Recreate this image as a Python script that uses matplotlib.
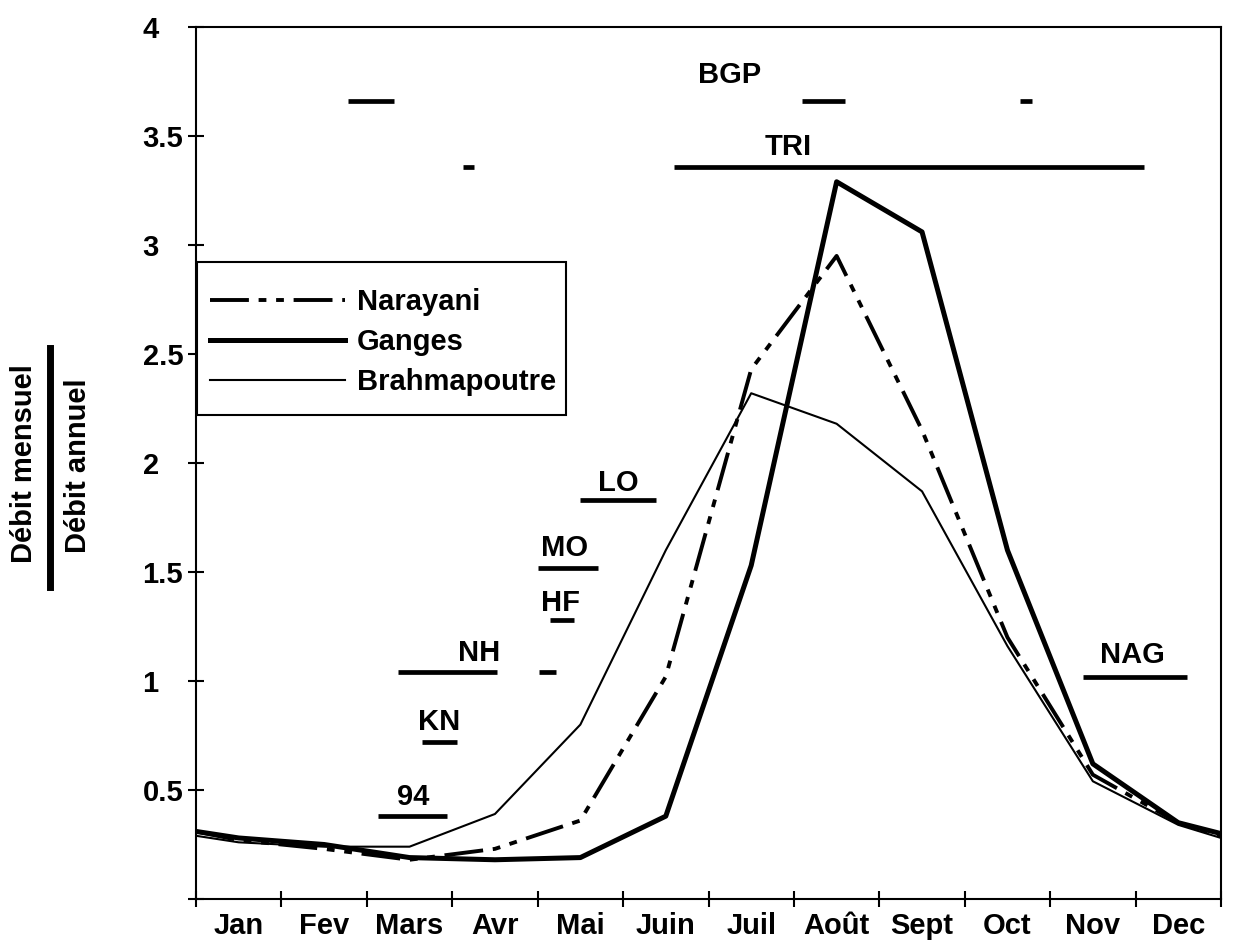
import matplotlib
matplotlib.use("Agg")
import matplotlib.pyplot as plt
from matplotlib.lines import Line2D
from matplotlib.patches import Rectangle

plt.rcParams['font.family'] = ['Liberation Sans', 'DejaVu Sans']
plt.rcParams['font.weight'] = 'bold'

# ---- data ----
months = ['Jan', 'Fev', 'Mars', 'Avr', 'Mai', 'Juin', 'Juil', 'Août', 'Sept', 'Oct', 'Nov', 'Dec']
x_pos = [0, 0.5, 1.5, 2.5, 3.5, 4.5, 5.5, 6.5, 7.5, 8.5, 9.5, 10.5, 11.5, 12]
narayani = [0.31, 0.27, 0.23, 0.18, 0.23, 0.36, 1.02, 2.43, 2.95, 2.15, 1.20, 0.57, 0.35, 0.29]
ganges = [0.31, 0.28, 0.25, 0.19, 0.18, 0.19, 0.38, 1.53, 3.29, 3.06, 1.60, 0.62, 0.35, 0.30]
brahmapoutre = [0.29, 0.26, 0.24, 0.24, 0.39, 0.80, 1.60, 2.32, 2.18, 1.87, 1.16, 0.54, 0.34, 0.28]

# horizontal period bars: start, end, level
bar_start = [1.78, 7.09, 9.65, 5.60, 3.12, 4.49, 4.00, 4.14, 2.36, 4.01, 2.65, 2.13, 10.38]
bar_end   = [2.32, 7.60, 9.79, 11.10, 3.25, 5.39, 4.71, 4.42, 3.52, 4.21, 3.06, 2.94, 11.60]
bar_level = [3.66, 3.66, 3.66, 3.36, 3.36, 1.83, 1.52, 1.28, 1.04, 1.04, 0.72, 0.38, 1.02]

# labels of the periods
lab_text = ['BGP', 'TRI', 'LO', 'MO', 'HF', 'NH', 'KN', '94', 'NAG']
lab_x    = [6.25, 6.93, 4.95, 4.31, 4.27, 3.32, 2.85, 2.54, 10.96]
lab_y    = [3.78, 3.45, 1.91, 1.61, 1.36, 1.13, 0.81, 0.47, 1.12]

yticks = [0, 0.5, 1, 1.5, 2, 2.5, 3, 3.5, 4]
ytick_labels = ['', '0.5', '1', '1.5', '2', '2.5', '3', '3.5', '4']

FS = 21
W, H = 1233, 941
fig = plt.figure(figsize=(W / 100, H / 100), dpi=100)
ax = fig.add_axes([196 / W, 1 - 899 / H, (1221 - 196) / W, (899 - 27) / H])

ax.plot(x_pos, narayani, color='black', lw=2.8,
        linestyle=(0, (10, 2.5, 2, 2.5, 2, 2.5)), label='Narayani')
ax.plot(x_pos, ganges, color='black', lw=3.6, label='Ganges')
ax.plot(x_pos, brahmapoutre, color='black', lw=1.5, label='Brahmapoutre')

for s, e, l in zip(bar_start, bar_end, bar_level):
    ax.plot([s, e], [l, l], color='black', lw=3.4, solid_capstyle='butt')

for t, x, y in zip(lab_text, lab_x, lab_y):
    ax.text(x, y, t, ha='center', va='center', fontsize=FS, fontweight='bold')

ax.set_xlim(0, 12)
ax.set_ylim(0, 4)
ax.set_xticks(range(0, 13))
ax.set_xticklabels([])
ax.set_xticks([i + 0.5 for i in range(12)], minor=True)
ax.set_xticklabels(months, minor=True, fontsize=FS, fontweight='bold')
ax.tick_params(axis='x', which='major', direction='inout', length=11, width=1.5)
ax.tick_params(axis='x', which='minor', length=0, pad=9)
ax.set_yticks(yticks)
ax.set_yticklabels(ytick_labels, fontsize=FS, fontweight='bold')
ax.tick_params(axis='y', direction='inout', length=11, width=1.5, pad=33)
for lbl in ax.get_yticklabels():
    lbl.set_horizontalalignment('left')
for sp in ax.spines.values():
    sp.set_linewidth(1.5)

# legend box (frame drawn separately for exact size)
ax.add_patch(Rectangle(((197 - 196) / 1025, (899 - 415) / 872), (566 - 197) / 1025,
                       (415 - 262) / 872, transform=ax.transAxes, facecolor='white',
                       edgecolor='black', lw=1.5, zorder=4, clip_on=False))
leg = ax.legend(loc='upper left', bbox_to_anchor=((210 - 196) / 1025, (899 - 288) / 872),
                fontsize=FS, handlelength=4.63, handletextpad=0.41, labelspacing=0.42,
                borderpad=0.0, borderaxespad=0.0, frameon=False)
leg.set_zorder(5)
for t in leg.get_texts():
    t.set_fontweight('bold')

# y-axis label as a fraction
fig.text(24 / W, 1 - 464 / H, 'Débit mensuel', rotation=90, ha='center', va='center',
         fontsize=FS, fontweight='bold')
fig.text(78 / W, 1 - 466 / H, 'Débit annuel', rotation=90, ha='center', va='center',
         fontsize=FS, fontweight='bold')
fig.add_artist(Line2D([50 / W, 50 / W], [1 - 348 / H, 1 - 587 / H], color='black', lw=5,
                      transform=fig.transFigure))

fig.savefig('out.png', dpi=100)
